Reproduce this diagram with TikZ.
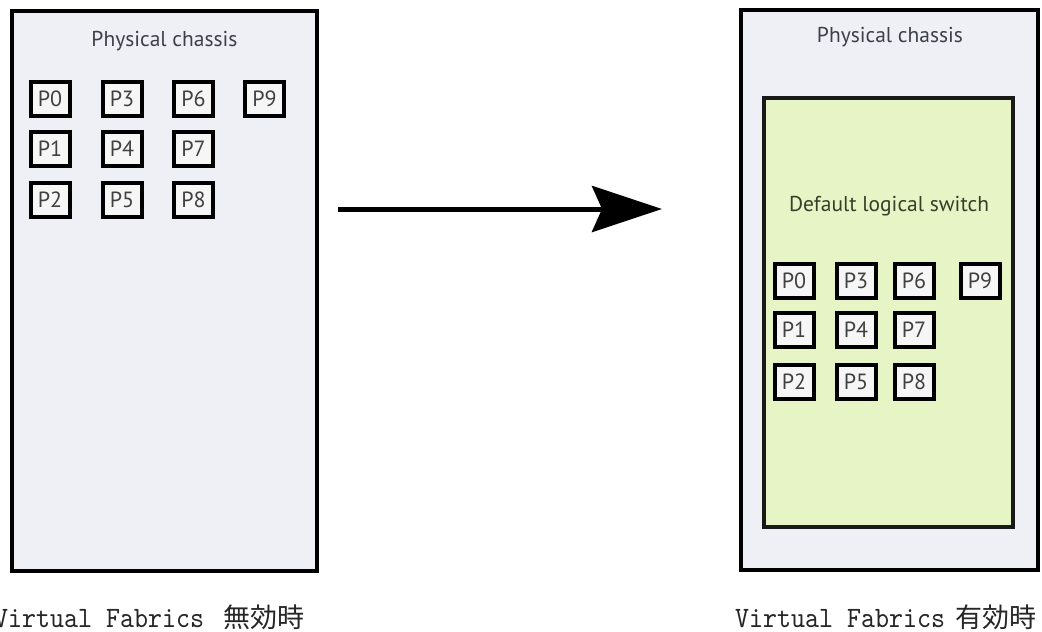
\documentclass[tikz,border=0pt]{standalone}
\usepackage{fontspec}
\usetikzlibrary{arrows.meta}
\newfontfamily\labelfont{PT Sans}
\newfontfamily\capmono[Extension=.otf,FakeStretch=0.9]{lmmono10-regular}
\newfontfamily\cjk{Noto Sans CJK JP}
\definecolor{chassisfill}{HTML}{EEF0F6}
\definecolor{switchfill}{HTML}{E7F5C6}
\definecolor{portfill}{HTML}{F6F6F6}
\definecolor{labelgrey}{HTML}{3C4049}
\definecolor{switchtext}{HTML}{333F28}
\definecolor{porttext}{HTML}{404040}
\tikzset{
  chassis/.style={draw=black, fill=chassisfill, line width=4pt, inner sep=0pt},
  lswitch/.style={draw=black!90, fill=switchfill, line width=4pt, inner sep=0pt},
  port/.style={draw=black, fill=portfill, line width=4pt, minimum width=39pt,
    minimum height=34pt, inner sep=0pt, text=porttext,
    font=\labelfont\fontsize{22}{22}\selectfont},
  title/.style={anchor=base, text=labelgrey, font=\labelfont\fontsize{21.5}{22}\selectfont},
  switchtitle/.style={anchor=base, text=switchtext, font=\labelfont\fontsize{21.5}{22}\selectfont},
  caption/.style={anchor=base west, inner sep=0pt, text=black!85},
  bigarrow/.style={line width=5pt, -{Stealth[length=70pt, width=46pt, inset=10pt]}}
}
\begin{document}
\begin{tikzpicture}[x=1pt, y=-1pt]
\clip (0,0) rectangle (1042,632);
\fill[white] (0,0) rectangle (1042,632);

% chassis before Virtual Fabrics
\node[chassis, minimum width=304.5pt, minimum height=559.5pt] (leftchassis) at (164.25,290.75) {};
\node[title] (lefttitle) at (164.5,46) {Physical chassis};
\foreach \name/\x/\y in {P0/50/98.5, P3/122/98.5, P6/193.5/98.5, P9/264.5/98.5,
                        P1/50/148.5, P4/122/148.5, P7/193.5/148.5,
                        P2/50/200,   P5/122/200,   P8/193.5/200}
  \node[port] (l\name) at (\x,\y) {\name};

% chassis with the default logical switch
\node[chassis, minimum width=297.5pt, minimum height=560.5pt] (rightchassis) at (889.25,289.75) {};
\node[title] (righttitle) at (890,42) {Physical chassis};
\node[lswitch, minimum width=249pt, minimum height=429pt] (default) at (888.5,312.5) {};
\node[switchtitle] (switchname) at (889,211) {Default logical switch};
\foreach \name/\x/\y in {P0/794/281, P3/856/281, P6/914/281, P9/980/281,
                        P1/794/330, P4/856/330, P7/914/330,
                        P2/794/382, P5/856/382, P8/914/382}
  \node[port] (r\name) at (\x,\y) {\name};

% transition arrow
\coordinate (arrowstart) at (338,209);
\coordinate (arrowend) at (662,209);
\draw[bigarrow] (arrowstart) -- (arrowend);

% captions
\node[caption] (leftcaption) at (-6,627)
  {\capmono\fontsize{29.6}{30}\selectfont Virtual Fabrics\hspace{20pt}\cjk\fontsize{27}{30}\selectfont 無効時};
\node[caption] (rightcaption) at (735,627)
  {\capmono\fontsize{29.6}{30}\selectfont Virtual Fabrics\hspace{11pt}\cjk\fontsize{27}{30}\selectfont 有効時};
\end{tikzpicture}
\end{document}
